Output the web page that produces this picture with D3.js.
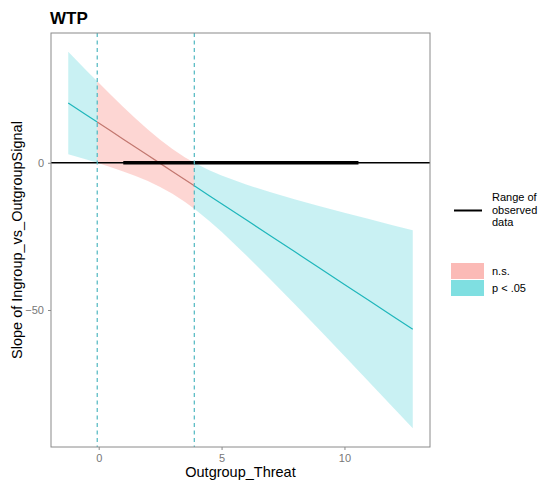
<!DOCTYPE html>
<html>
<head>
<meta charset="utf-8">
<script src="https://cdn.jsdelivr.net/npm/d3@7/dist/d3.min.js"></script>
<style>
  html, body { margin: 0; padding: 0; background: #fff; }
  svg { display: block; font-family: "Liberation Sans", Arial, sans-serif; }
</style>
</head>
<body>
<svg id="chart" width="549" height="483"></svg>
<script>
// Johnson-Neyman plot: conditional slope of Ingroup_vs_OutgroupSignal across Outgroup_Threat
const moderator = [-1.24, -0.5, -0.06, 0.5, 1, 1.5, 2, 2.5, 3, 3.5, 3.89, 4.5, 5, 6, 7, 8, 9, 10, 11, 12, 12.78];
const slope     = [20.30, 16.24, 13.83, 10.76, 8.02, 5.28, 2.54, -0.20, -2.94, -5.68, -7.82, -11.16, -13.90, -19.38, -24.86, -30.34, -35.82, -41.30, -46.78, -52.26, -56.53];
const ciLower   = [2.91, 1.11, 0.00, -1.49, -2.92, -4.48, -6.22, -8.21, -10.53, -13.23, -15.62, -19.75, -23.45, -31.37, -39.70, -48.24, -56.91, -65.65, -74.43, -83.25, -90.14];
const ciUpper   = [37.69, 31.37, 27.66, 23.01, 18.96, 15.04, 11.30, 7.81, 4.65, 1.87, -0.02, -2.57, -4.35, -7.39, -10.02, -12.44, -14.73, -16.95, -19.13, -21.27, -22.92];
const jnBounds  = [-0.06, 3.89];
const observedRange = [1.0, 10.57];
const xTicks = [0, 5, 10];
const yTicks = [-50, 0];
const legendLabels = ["n.s.", "p < .05"];

const svg = d3.select("#chart");
const panel = { left: 51, right: 430, top: 33, bottom: 447 };

const rows = moderator.map((x, i) => ({ x, y: slope[i], lo: ciLower[i], hi: ciUpper[i] }));

// ggplot-style 5% expansion around the data extent
const xExt = d3.extent(moderator);
const xPad = (xExt[1] - xExt[0]) * 0.05;
const yExt = [d3.min(ciLower), d3.max(ciUpper)];
const yPad = (yExt[1] - yExt[0]) * 0.05;

const x = d3.scaleLinear().domain([xExt[0] - xPad, xExt[1] + xPad]).range([panel.left, panel.right]);
const y = d3.scaleLinear().domain([yExt[0] - yPad, yExt[1] + yPad]).range([panel.bottom, panel.top]);

const colNS = "#f8766d", colSig = "#00bfc4";

// split the curve into significant / non-significant stretches at the J-N bounds
const segments = [
  { rows: rows.filter(d => d.x <= jnBounds[0]), sig: true },
  { rows: rows.filter(d => d.x >= jnBounds[0] && d.x <= jnBounds[1]), sig: false },
  { rows: rows.filter(d => d.x >= jnBounds[1]), sig: true }
];

const area = d3.area().x(d => x(d.x)).y0(d => y(d.lo)).y1(d => y(d.hi));
const line = d3.line().x(d => x(d.x)).y(d => y(d.y));

const g = svg.append("g");

segments.forEach(s => {
  g.append("path").attr("d", area(s.rows))
    .attr("fill", s.sig ? colSig : colNS)
    .attr("fill-opacity", s.sig ? 0.21 : 0.3)
    .attr("stroke", "none");
});
segments.forEach(s => {
  g.append("path").attr("d", line(s.rows))
    .attr("fill", "none")
    .attr("stroke", s.sig ? "#1fb6bb" : "#c2776f")
    .attr("stroke-width", 1.2);
});

// zero reference line
g.append("line")
  .attr("x1", panel.left).attr("x2", panel.right)
  .attr("y1", y(0)).attr("y2", y(0))
  .attr("stroke", "#000").attr("stroke-width", 1.6);

// range of observed moderator values
g.append("line")
  .attr("x1", x(observedRange[0])).attr("x2", x(observedRange[1]))
  .attr("y1", y(0)).attr("y2", y(0))
  .attr("stroke", "#000").attr("stroke-width", 3.6);

// Johnson-Neyman interval bounds
jnBounds.forEach(b => {
  g.append("line")
    .attr("x1", x(b)).attr("x2", x(b))
    .attr("y1", panel.top).attr("y2", panel.bottom)
    .attr("stroke", "#4fb7c0").attr("stroke-width", 1.2)
    .attr("stroke-dasharray", "4,3.5");
});

// panel border
svg.append("rect")
  .attr("x", panel.left).attr("y", panel.top)
  .attr("width", panel.right - panel.left).attr("height", panel.bottom - panel.top)
  .attr("fill", "none").attr("stroke", "#8a8a8a").attr("stroke-width", 1);

// axes
const xAxis = d3.axisBottom(x).tickValues(xTicks).tickSize(3).tickPadding(4);
const yAxis = d3.axisLeft(y).tickValues(yTicks).tickSize(3).tickPadding(4);

const gx = svg.append("g").attr("transform", `translate(0,${panel.bottom})`).call(xAxis);
const gy = svg.append("g").attr("transform", `translate(${panel.left},0)`).call(yAxis);
[gx, gy].forEach(a => {
  a.select(".domain").remove();
  a.selectAll(".tick line").attr("stroke", "#8a8a8a");
  a.selectAll(".tick text").attr("fill", "#777").attr("font-size", 11)
    .attr("font-family", "'Liberation Sans', Arial, sans-serif");
});

// titles
svg.append("text").attr("x", 50).attr("y", 24)
  .attr("font-size", 17).attr("font-weight", "bold").attr("fill", "#000")
  .text("WTP");

svg.append("text")
  .attr("x", (panel.left + panel.right) / 2).attr("y", 477)
  .attr("text-anchor", "middle").attr("font-size", 14.5).attr("fill", "#000")
  .text("Outgroup_Threat");

svg.append("text")
  .attr("transform", `translate(22,${(panel.top + panel.bottom) / 2}) rotate(-90)`)
  .attr("text-anchor", "middle").attr("font-size", 14.5).attr("fill", "#000")
  .text("Slope of Ingroup_vs_OutgroupSignal");

// legend: observed range
const lg = svg.append("g");
lg.append("line").attr("x1", 454).attr("x2", 482).attr("y1", 210.5).attr("y2", 210.5)
  .attr("stroke", "#000").attr("stroke-width", 2);
["Range of", "observed", "data"].forEach((t, i) => {
  lg.append("text").attr("x", 492).attr("y", 201 + i * 12.5)
    .attr("font-size", 11).attr("fill", "#000").text(t);
});

// legend: significance fill
legendLabels.forEach((t, i) => {
  const ky = 263 + i * 17;
  lg.append("rect").attr("x", 451).attr("y", ky).attr("width", 33).attr("height", 16)
    .attr("fill", i === 0 ? colNS : colSig).attr("fill-opacity", 0.5);
  lg.append("text").attr("x", 492).attr("y", ky + 12)
    .attr("font-size", 11).attr("fill", "#000").text(t);
});
</script>
</body>
</html>
